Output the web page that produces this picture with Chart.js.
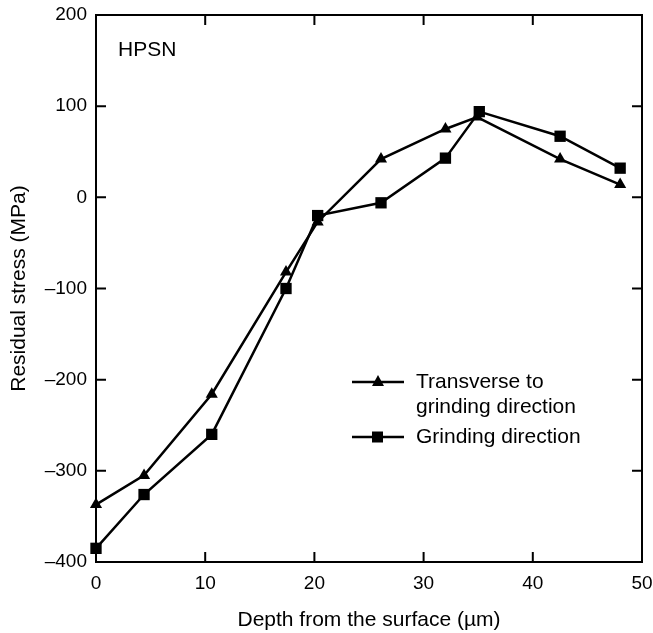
<!DOCTYPE html>
<html>
<head>
<meta charset="utf-8">
<script src="https://cdn.jsdelivr.net/npm/chart.js@4.4.1/dist/chart.umd.min.js"></script>
<style>
    body { margin: 0; background: #fff; }
    #wrap { width: 653px; height: 633px; }
</style>
</head>
<body>
<div id="wrap"><canvas id="stressChart" width="653" height="633"></canvas></div>
<script>
// ---- DATA ----
const transDepth = [0, 4.4, 10.6, 17.4, 20.3, 26.1, 32.0, 34.9, 42.5, 48.0];
const transStress = [-337, -305, -216, -82, -27, 42, 75, 88, 42, 14];
const grindDepth = [0, 4.4, 10.6, 17.4, 20.3, 26.1, 32.0, 35.1, 42.5, 48.0];
const grindStress = [-385, -326, -260, -100, -20, -6, 43, 94, 67, 32];
const xTicks = [0, 10, 20, 30, 40, 50];
const yTicks = [-400, -300, -200, -100, 0, 100, 200];
const seriesNames = [['Transverse to', 'grinding direction'], ['Grinding direction']];

const FONT = "'Liberation Sans', Arial, Helvetica, sans-serif";
Chart.defaults.font.family = FONT;
Chart.defaults.font.size = 19;
Chart.defaults.color = '#000';

const toPoints = (xs, ys) => xs.map((x, i) => ({ x: x, y: ys[i] }));

// frame, inward ticks on all four sides, label and legend
const framePlugin = {
    id: 'frame',
    afterDraw(chart) {
        const { ctx, chartArea: a, scales } = chart;
        ctx.save();
        ctx.strokeStyle = '#000';
        ctx.lineWidth = 2;
        ctx.strokeRect(a.left, a.top, a.right - a.left, a.bottom - a.top);

        const len = 10;
        ctx.beginPath();
        xTicks.forEach(v => {
            const px = scales.x.getPixelForValue(v);
            ctx.moveTo(px, a.bottom); ctx.lineTo(px, a.bottom - len);
            ctx.moveTo(px, a.top); ctx.lineTo(px, a.top + len);
        });
        yTicks.forEach(v => {
            const py = scales.y.getPixelForValue(v);
            ctx.moveTo(a.left, py); ctx.lineTo(a.left + len, py);
            ctx.moveTo(a.right, py); ctx.lineTo(a.right - len, py);
        });
        ctx.stroke();

        // HPSN label
        ctx.fillStyle = '#000';
        ctx.font = '21px ' + FONT;
        ctx.textBaseline = 'middle';
        ctx.textAlign = 'left';
        ctx.fillText('HPSN', 118, 50);

        // legend
        const rows = [
            { y: 382, style: 'triangle', lines: seriesNames[0] },
            { y: 437, style: 'rect', lines: seriesNames[1] }
        ];
        rows.forEach(r => {
            ctx.beginPath();
            ctx.moveTo(352, r.y); ctx.lineTo(404, r.y);
            ctx.lineWidth = 2.5;
            ctx.stroke();
            ctx.beginPath();
            if (r.style === 'triangle') {
                ctx.moveTo(378, r.y - 7);
                ctx.lineTo(384, r.y + 4);
                ctx.lineTo(372, r.y + 4);
                ctx.closePath();
            } else {
                ctx.rect(372, r.y - 5.5, 11, 11);
            }
            ctx.fill();
            r.lines.forEach((t, i) => ctx.fillText(t, 416, r.y + i * 25));
        });
        ctx.restore();
    }
};

new Chart(document.getElementById('stressChart'), {
    type: 'scatter',
    data: {
        datasets: [{
            label: 'Transverse to grinding direction',
            data: toPoints(transDepth, transStress),
            showLine: true,
            borderColor: '#000',
            backgroundColor: '#000',
            borderWidth: 2.5,
            pointStyle: 'triangle',
            pointRadius: 7,
            pointBorderWidth: 0,
            clip: false
        }, {
            label: 'Grinding direction',
            data: toPoints(grindDepth, grindStress),
            showLine: true,
            borderColor: '#000',
            backgroundColor: '#000',
            borderWidth: 2.5,
            pointStyle: 'rect',
            pointRadius: 8,
            pointBorderWidth: 0,
            clip: false
        }]
    },
    options: {
        responsive: false,
        animation: false,
        layout: { padding: { top: 15, right: 11, left: 0, bottom: 0 } },
        plugins: {
            legend: { display: false },
            tooltip: { enabled: false }
        },
        scales: {
            x: {
                type: 'linear',
                min: 0,
                max: 50,
                afterFit: s => { s.height = 71; s.paddingLeft = 0; s.paddingRight = 0; },
                afterBuildTicks: s => { s.ticks = xTicks.map(v => ({ value: v })); },
                grid: { display: false, drawTicks: false },
                border: { display: false },
                ticks: { padding: 10, color: '#000' },
                title: {
                    display: true,
                    text: 'Depth from the surface (\u00b5m)',
                    color: '#000',
                    font: { size: 21 },
                    padding: { top: 0, bottom: 0 }
                }
            },
            y: {
                type: 'linear',
                min: -400,
                max: 200,
                afterFit: s => { s.width = 96; s.paddingTop = 0; s.paddingBottom = 0; },
                afterBuildTicks: s => { s.ticks = yTicks.map(v => ({ value: v })); },
                grid: { display: false, drawTicks: false },
                border: { display: false },
                ticks: {
                    padding: 9,
                    color: '#000',
                    callback: v => v < 0 ? '\u2013' + Math.abs(v) : String(v)
                },
                title: {
                    display: true,
                    text: 'Residual stress (MPa)',
                    color: '#000',
                    font: { size: 21 },
                    padding: { top: 7, bottom: 0 }
                }
            }
        }
    },
    plugins: [framePlugin]
});
</script>
</body>
</html>
